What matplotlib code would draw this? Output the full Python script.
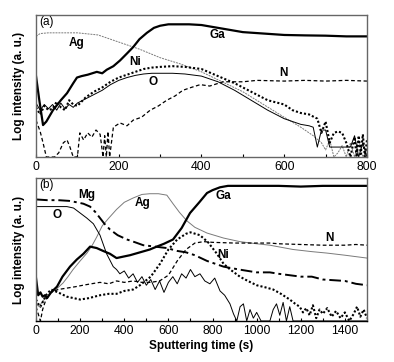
import matplotlib
matplotlib.use("Agg")
from matplotlib import pyplot as plt
from matplotlib.ticker import MultipleLocator

plt.rcParams['font.family'] = ['Liberation Sans', 'DejaVu Sans']

# ---- panel (a): 0..800 s, log intensity in relative units (0 = bottom, 1 = top)
ga_a_x = [0, 8, 17, 25, 41, 60, 75, 90, 99, 110, 125, 147, 160, 171, 187, 203, 220, 235, 250,
          268, 285, 300, 320, 340, 370, 400, 450, 500, 550, 600, 650, 700, 750, 800]
ga_a_y = [0.57, 0.40, 0.225, 0.25, 0.33, 0.40, 0.45, 0.52, 0.56, 0.57, 0.58, 0.60, 0.59, 0.615,
          0.64, 0.68, 0.73, 0.775, 0.83, 0.875, 0.91, 0.925, 0.935, 0.935, 0.935, 0.93, 0.905,
          0.88, 0.87, 0.86, 0.857, 0.855, 0.85, 0.85]

ag_a_x = [0, 10, 30, 60, 100, 150, 200, 250, 300, 350, 400, 450, 500, 550, 600, 640, 670, 690,
          700, 710, 720, 730, 740, 750, 760, 770, 780, 790, 800]
ag_a_y = [0.85, 0.87, 0.875, 0.875, 0.875, 0.86, 0.81, 0.76, 0.70, 0.655, 0.60, 0.53, 0.46,
          0.37, 0.28, 0.21, 0.15, 0.10, 0.05, 0.12, 0.0, 0.03, 0.08, 0.0, 0.10, 0.0, 0.12, 0.0, 0.05]

ni_a_x = [0, 10, 20, 30, 40, 50, 60, 70, 80, 90, 100, 120, 140, 160, 180, 200, 220, 240, 260,
          280, 300, 330, 360, 400, 440, 480, 520, 560, 600, 620, 640, 660, 680, 690, 700, 710,
          720, 730, 740, 750, 760, 770, 775, 780, 785, 790, 795, 800]
ni_a_y = [0.35, 0.30, 0.36, 0.33, 0.34, 0.39, 0.35, 0.33, 0.40, 0.37, 0.36, 0.42, 0.46, 0.49,
          0.53, 0.56, 0.58, 0.60, 0.62, 0.63, 0.635, 0.64, 0.635, 0.62, 0.57, 0.52, 0.46, 0.40,
          0.37, 0.33, 0.31, 0.30, 0.27, 0.17, 0.25, 0.10, 0.17, 0.18, 0.17, 0.10, 0.0, 0.14, 0.0,
          0.15, 0.02, 0.16, 0.0, 0.12]

o_a_x = [0, 10, 20, 30, 40, 50, 60, 70, 80, 90, 100, 120, 140, 160, 180, 200, 220, 240, 260,
         280, 300, 330, 360, 400, 440, 480, 520, 560, 600, 620, 640, 660, 670, 680, 690, 700,
         710, 720, 740, 760, 770, 780, 790, 800]
o_a_y = [0.38, 0.33, 0.37, 0.34, 0.37, 0.33, 0.38, 0.34, 0.37, 0.35, 0.38, 0.41, 0.44, 0.47,
         0.51, 0.54, 0.56, 0.575, 0.585, 0.59, 0.59, 0.59, 0.585, 0.57, 0.53, 0.47, 0.40, 0.33,
         0.27, 0.25, 0.23, 0.22, 0.21, 0.07, 0.19, 0.19, 0.07, 0.07, 0.07, 0.07, 0.15, 0.0,
         0.10, 0.0]

n_a_x = [0, 10, 17, 25, 35, 45, 55, 66, 75, 82, 90, 100, 106, 115, 125, 135, 145, 155, 162,
         166, 170, 174, 178, 187, 203, 220, 235, 255, 276, 296, 316, 336, 355, 375, 397, 420,
         452, 500, 534, 600, 650, 700, 750, 800]
n_a_y = [0.26, 0.18, 0.10, 0.0, 0.0, 0.0, 0.03, 0.10, 0.12, 0.07, 0.0, 0.0, 0.17, 0.12, 0.17,
         0.14, 0.19, 0.16, 0.0, 0.15, 0.0, 0.18, 0.0, 0.21, 0.24, 0.22, 0.26, 0.28, 0.33, 0.36,
         0.40, 0.43, 0.47, 0.49, 0.51, 0.50, 0.53, 0.53, 0.54, 0.535, 0.54, 0.535, 0.54, 0.535]

# ---- panel (b): 0..1500 s
ga_b_x = [0, 10, 20, 30, 40, 50, 68, 95, 120, 154, 185, 215, 245, 275, 304, 335, 365, 395, 426,
          471, 516, 547, 580, 621, 660, 698, 740, 775, 800, 834, 870, 900, 1000, 1100, 1200,
          1300, 1400, 1500]
ga_b_y = [0.30, 0.18, 0.20, 0.17, 0.18, 0.16, 0.20, 0.24, 0.31, 0.38, 0.43, 0.47, 0.52, 0.51,
          0.49, 0.47, 0.44, 0.45, 0.46, 0.48, 0.50, 0.52, 0.54, 0.57, 0.65, 0.755, 0.83, 0.895,
          0.915, 0.935, 0.945, 0.945, 0.945, 0.945, 0.94, 0.945, 0.945, 0.945]

mg_b_x = [0, 50, 100, 150, 185, 215, 245, 270, 290, 310, 335, 370, 412, 450, 486, 540, 593, 640,
          680, 720, 775, 850, 920, 1000, 1060, 1100, 1150, 1200, 1250, 1300, 1350, 1400, 1450, 1500]
mg_b_y = [0.85, 0.845, 0.845, 0.84, 0.83, 0.82, 0.80, 0.76, 0.72, 0.68, 0.64, 0.60, 0.57, 0.55,
          0.53, 0.52, 0.51, 0.49, 0.48, 0.46, 0.42, 0.38, 0.36, 0.34, 0.34, 0.33, 0.32, 0.31,
          0.31, 0.29, 0.285, 0.28, 0.26, 0.25]

o_b_x = [0, 50, 100, 140, 170, 200, 230, 260, 290, 320, 350, 365, 380, 400, 420, 440, 460, 480,
         500, 520, 540, 560, 580, 600, 620, 640, 660, 680, 700, 720, 743, 765, 788, 810, 834,
         855, 879, 895, 910, 925, 940, 955, 970, 985, 1000, 1020, 1040, 1060, 1075, 1090, 1105,
         1120, 1135, 1150, 1165, 1180, 1500]
o_b_y = [0.80, 0.80, 0.80, 0.80, 0.79, 0.755, 0.72, 0.68, 0.60, 0.47, 0.38, 0.36, 0.33, 0.35,
         0.30, 0.33, 0.27, 0.31, 0.25, 0.29, 0.22, 0.28, 0.20, 0.27, 0.31, 0.26, 0.33, 0.30,
         0.36, 0.31, 0.33, 0.28, 0.26, 0.30, 0.21, 0.18, 0.12, 0.05, 0.0, 0.10, 0.12, 0.0, 0.08,
         0.02, 0.06, 0.0, 0.0, 0.0, 0.08, 0.12, 0.04, 0.13, 0.0, 0.10, 0.0, 0.0, 0.0]

ag_b_x = [0, 15, 30, 45, 63, 90, 122, 145, 168, 200, 231, 255, 276, 300, 330, 365, 400, 440, 480,
          516, 555, 593, 621, 650, 684, 720, 775, 850, 924, 1000, 1060, 1165, 1250, 1318, 1400, 1500]
ag_b_y = [0.12, 0.10, 0.14, 0.16, 0.19, 0.22, 0.265, 0.31, 0.36, 0.42, 0.475, 0.53, 0.59, 0.665,
          0.72, 0.78, 0.83, 0.86, 0.885, 0.89, 0.89, 0.88, 0.82, 0.76, 0.70, 0.655, 0.615, 0.58,
          0.555, 0.54, 0.53, 0.50, 0.485, 0.475, 0.46, 0.44]

ni_b_x = [0, 10, 20, 30, 45, 68, 100, 140, 170, 200, 240, 290, 330, 365, 400, 440, 471, 520, 562,
          600, 640, 680, 700, 743, 780, 820, 850, 880, 924, 960, 1000, 1040, 1075, 1110, 1150,
          1175, 1195, 1210, 1225, 1240, 1255, 1270, 1285, 1300, 1320, 1340, 1360, 1380, 1400,
          1420, 1440, 1455, 1470, 1485, 1500]
ni_b_y = [0.15, 0.12, 0.10, 0.13, 0.18, 0.22, 0.20, 0.17, 0.16, 0.15, 0.16, 0.18, 0.19, 0.19,
          0.21, 0.22, 0.25, 0.31, 0.40, 0.50, 0.57, 0.61, 0.62, 0.60, 0.55, 0.47, 0.40, 0.36,
          0.31, 0.28, 0.25, 0.235, 0.22, 0.19, 0.15, 0.12, 0.10, 0.06, 0.09, 0.04, 0.11, 0.02,
          0.08, 0.05, 0.09, 0.03, 0.07, 0.02, 0.06, 0.0, 0.05, 0.10, 0.03, 0.08, 0.02]

n_b_x = [0, 10, 20, 30, 45, 68, 100, 140, 180, 213, 250, 290, 330, 365, 400, 440, 480, 520, 560,
         600, 640, 680, 720, 760, 800, 900, 1000, 1060, 1100, 1200, 1300, 1400, 1450, 1500]
n_b_y = [0.10, 0.05, 0.0, 0.08, 0.15, 0.20, 0.22, 0.23, 0.24, 0.25, 0.26, 0.27, 0.26, 0.28,
         0.27, 0.28, 0.27, 0.27, 0.28, 0.32, 0.42, 0.50, 0.545, 0.555, 0.55, 0.545, 0.545,
         0.545, 0.54, 0.535, 0.53, 0.53, 0.535, 0.53]

labels_a = [("Ag", 99, 0.80), ("Ga", 438, 0.86), ("Ni", 239, 0.67), ("O", 283, 0.53), ("N", 597, 0.59)]
labels_b = [("Mg", 231, 0.88), ("O", 95, 0.74), ("Ag", 485, 0.825), ("Ga", 847, 0.875),
            ("Ni", 847, 0.46), ("N", 1332, 0.58)]

fig = plt.figure(figsize=(3.94, 3.62), dpi=100)
ax_a = fig.add_axes([0.0914, 0.5663, 0.840, 0.392])
ax_b = fig.add_axes([0.0914, 0.1133, 0.840, 0.395])

thick = dict(color="black", lw=1.6)
dotted = dict(color="black", lw=1.5, linestyle=(0, (1, 1)))
dashed = dict(color="black", lw=0.9, linestyle=(0, (3, 2)))
thin = dict(color="black", lw=0.7)
grey = dict(color="#7a7a7a", lw=0.7)

ax_a.plot(ag_a_x, ag_a_y, linestyle=(0, (2, 1)), **grey)
ax_a.plot(o_a_x, o_a_y, **thin)
ax_a.plot(n_a_x, n_a_y, **dashed)
ax_a.plot(ni_a_x, ni_a_y, **dotted)
ax_a.plot(ga_a_x, ga_a_y, **thick)

ax_b.plot(ag_b_x, ag_b_y, **grey)
ax_b.plot(o_b_x, o_b_y, **thin)
ax_b.plot(n_b_x, n_b_y, **dashed)
ax_b.plot(ni_b_x, ni_b_y, **dotted)
ax_b.plot(mg_b_x, mg_b_y, color="black", lw=1.4, linestyle=(0, (6, 2, 1.5, 2)))
ax_b.plot(ga_b_x, ga_b_y, **thick)

for ax, xmax, labels, tag in [(ax_a, 800, labels_a, "(a)"), (ax_b, 1500, labels_b, "(b)")]:
    ax.set_xlim(0, xmax)
    ax.set_ylim(0, 1)
    ax.set_yticks([])
    ax.xaxis.set_major_locator(MultipleLocator(200))
    ax.xaxis.set_minor_locator(MultipleLocator(100))
    ax.tick_params(axis="x", which="both", direction="in", length=2.5, width=0.8,
                   labelsize=8.8, pad=3)
    for sp in ax.spines.values():
        sp.set_color("#666666")
        sp.set_linewidth(1.0)
    ax.set_ylabel("Log intensity (a. u.)", fontsize=8.5, fontweight="bold", labelpad=8)
    ax.text(0.01, 0.95, tag, transform=ax.transAxes, fontsize=8.5, ha="left", va="center")
    for name, lx, ly in labels:
        ax.text(lx, ly, name, fontsize=8.5, fontweight="bold", ha="center", va="center")

ax_b.set_xticks(range(0, 1401, 200))
ax_b.spines["bottom"].set_color("black")
ax_b.set_xlabel("Sputtering time (s)", fontsize=8.5, fontweight="bold", labelpad=2)

fig.savefig("out.png", dpi=100)
